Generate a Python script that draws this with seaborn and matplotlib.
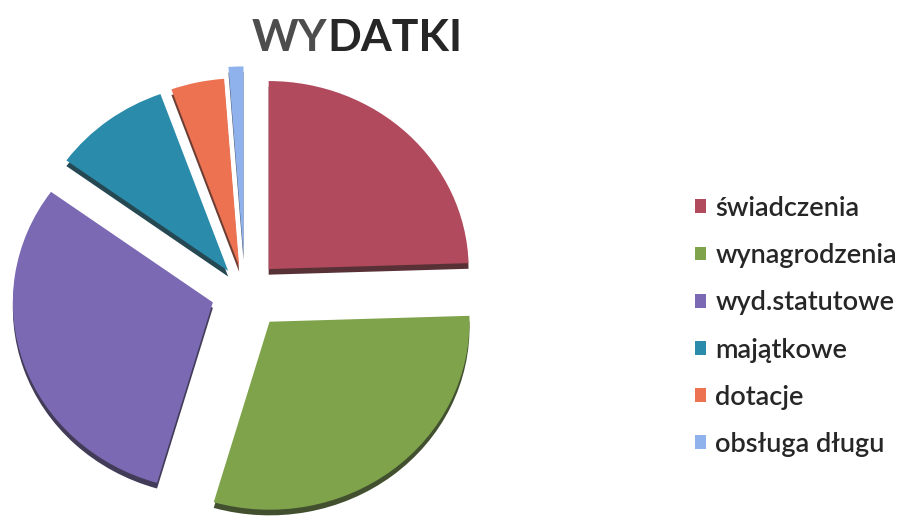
import matplotlib
matplotlib.use("Agg")
import matplotlib.pyplot as plt
import seaborn as sns

# data (shares in %)
categories = ["świadczenia", "wynagrodzenia", "wyd.statutowe", "majątkowe", "dotacje", "obsługa długu"]
shares = [24.5, 30.0, 30.5, 9.5, 4.3, 1.2]

colors = ["#B14A5C", "#7EA34B", "#7B69B3", "#2A8BAA", "#EC7252", "#8FB2EC"]
explode = [0.17, 0.2, 0.17, 0.14, 0.14, 0.2]

sns.set_theme(style="white")
plt.rcParams["font.family"] = ["Lato", "DejaVu Sans"]

fig = plt.figure(figsize=(9.04, 5.22), dpi=100)
ax = fig.add_axes([0, 0, 490 / 904, 1])

# dark underside to fake the 3D rim
shade = [sns.dark_palette(c, 4)[1] for c in colors]
ax.pie(shares, explode=explode, colors=shade, startangle=90, counterclock=False,
       center=(0, -0.03), wedgeprops={"linewidth": 0})
wedges, _ = ax.pie(shares, explode=explode, colors=colors, startangle=90,
                   counterclock=False, wedgeprops={"linewidth": 0})

# slight tilt: vertical radius a bit shorter than horizontal
rx, ry = 200, 188
cx, cy = 245, 522 - 292
ax.set_xlim(-cx / rx, (490 - cx) / rx)
ax.set_ylim(-cy / ry, (522 - cy) / ry)
ax.set_aspect("auto")
ax.axis("off")

# title: "WY" comes out lighter than "DATKI" in the scan
title_kw = dict(va="center", fontsize=32, fontweight="bold")
t1 = fig.text(252 / 904, 1 - 38 / 522, "WY", ha="left", color="#4d4d4d", **title_kw)
fig.canvas.draw()
x_end = fig.transFigure.inverted().transform(
    t1.get_window_extent(fig.canvas.get_renderer()))[1, 0]
fig.text(x_end, 1 - 38 / 522, "DATKI", ha="left", color="#262626", **title_kw)

fig.legend(wedges, categories, loc="center left", bbox_to_anchor=(695 / 904, 1 - 326.5 / 522),
           frameon=False, prop={"size": 19.5, "weight": "semibold"},
           handlelength=0.4, handleheight=0.4,
           handletextpad=0.35, labelspacing=0.82, borderpad=0, borderaxespad=0,
           labelcolor="#262626")

fig.savefig("out.png", dpi=100)
